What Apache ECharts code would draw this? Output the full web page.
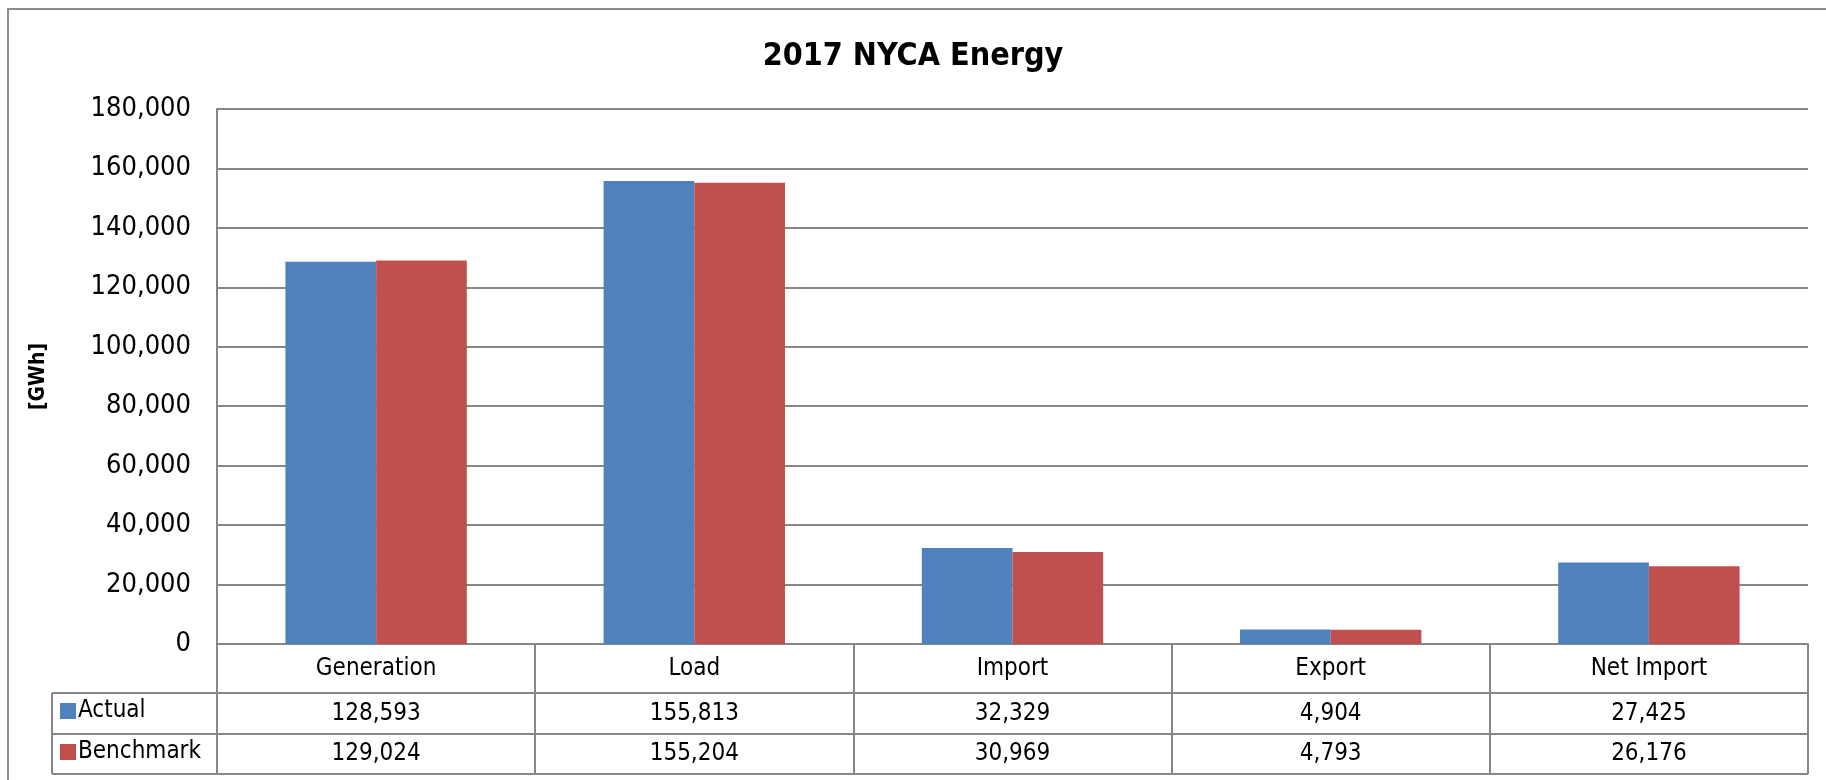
<!DOCTYPE html>
<html>
<head>
<meta charset="utf-8">
<script src="https://cdn.jsdelivr.net/npm/echarts@6/dist/echarts.min.js"></script>
<style>
	html, body { margin: 0; padding: 0; background: #fff; }
	#chart { width: 1826px; height: 780px; }
</style>
</head>
<body>
<div id="chart"></div>
<script>
var categories = ['Generation', 'Load', 'Import', 'Export', 'Net Import'];
var actual = [128593, 155813, 32329, 4904, 27425];
var benchmark = [129024, 155204, 30969, 4793, 26176];
var seriesNames = ['Actual', 'Benchmark'];
var yTicks = { min: 0, max: 180000, interval: 20000 };

var font = '"Liberation Sans Narrow", "Arial Narrow", "DejaVu Sans Condensed", sans-serif';
var gridColor = '#868686';

function fmt(v) {
	return v.toLocaleString('en-US');
}

var chart = echarts.init(document.getElementById('chart'));

// one legend per table row so each marker sits in its own row
var legendRow = function(name, top) {
	return {
		data: [name],
		left: 55,
		top: top,
		itemWidth: 16,
		itemHeight: 16,
		icon: 'rect',
		textStyle: { fontFamily: font, fontSize: 24, color: '#000', lineHeight: 30, padding: [0, 0, 0, -3] }
	};
};

var option = {
	backgroundColor: '#fff',
	animation: false,
	color: ['#4f81bd', '#c0504d'],
	title: {
		text: '2017 NYCA Energy',
		left: 'center',
		top: 36,
		textStyle: { fontFamily: font, fontSize: 32, fontWeight: 'bold', color: '#000' }
	},
	legend: [legendRow(seriesNames[0], 691), legendRow(seriesNames[1], 732)],
	grid: { left: 217, right: 18, top: 109, bottom: 136 },
	xAxis: {
		type: 'category',
		data: categories,
		axisLine: { lineStyle: { color: gridColor, width: 2 } },
		axisTick: { show: true, interval: 0, length: 130, lineStyle: { color: gridColor, width: 2 } },
		axisLabel: {
			interval: 0,
			margin: 0,
			formatter: function(val, idx) {
				return '{h|' + val + '}\n{a|' + fmt(actual[idx]) + '}\n{b|' + fmt(benchmark[idx]) + '}';
			},
			rich: {
				h: { fontFamily: font, fontSize: 24, color: '#000', lineHeight: 49 },
				a: { fontFamily: font, fontSize: 24, color: '#000', lineHeight: 41 },
				b: { fontFamily: font, fontSize: 24, color: '#000', lineHeight: 40 }
			}
		}
	},
	yAxis: {
		type: 'value',
		min: yTicks.min,
		max: yTicks.max,
		interval: yTicks.interval,
		name: '[GWh]',
		nameLocation: 'middle',
		nameGap: 168,
		nameTextStyle: { fontFamily: font, fontSize: 21, fontWeight: 'bold', color: '#000' },
		axisLine: { show: true, lineStyle: { color: gridColor, width: 2 } },
		axisTick: { show: false },
		splitLine: { lineStyle: { color: gridColor, width: 2 } },
		axisLabel: {
			margin: 26,
			fontFamily: font,
			fontSize: 27,
			color: '#000',
			formatter: function(v) { return fmt(v); }
		}
	},
	series: [{
		name: seriesNames[0],
		type: 'bar',
		data: actual,
		barGap: '0%',
		barCategoryGap: '43%'
	}, {
		name: seriesNames[1],
		type: 'bar',
		data: benchmark,
		barGap: '0%',
		barCategoryGap: '43%'
	}],
	graphic: [
		// outer chart border
		{ type: 'rect', shape: { x: 8, y: 9, width: 1900, height: 900 }, style: { fill: 'none', stroke: '#8c8c8c', lineWidth: 2 }, silent: true },
		// data table lines
		{ type: 'line', shape: { x1: 52, y1: 693, x2: 1808, y2: 693 }, style: { stroke: gridColor, lineWidth: 2 } },
		{ type: 'line', shape: { x1: 52, y1: 734, x2: 1808, y2: 734 }, style: { stroke: gridColor, lineWidth: 2 } },
		{ type: 'line', shape: { x1: 52, y1: 774, x2: 1808, y2: 774 }, style: { stroke: gridColor, lineWidth: 2 } },
		{ type: 'line', shape: { x1: 52, y1: 693, x2: 52, y2: 774 }, style: { stroke: gridColor, lineWidth: 2 } }
	]
};

chart.setOption(option);
window.addEventListener('resize', function() {
	chart.resize();
});
</script>
</body>
</html>
